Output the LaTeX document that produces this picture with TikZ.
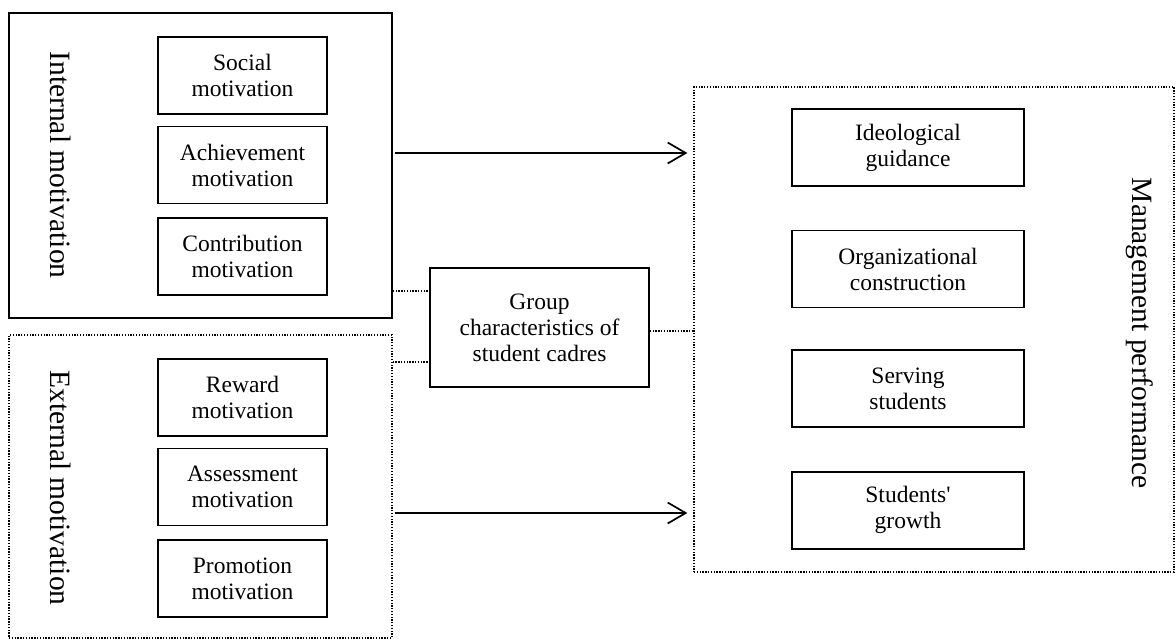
\documentclass[tikz,border=0pt]{standalone}
\usepackage{fontspec}
\setmainfont{Liberation Serif}
\usetikzlibrary{arrows.meta,positioning}
\tikzset{
  motbox/.style={draw, line width=1.6pt, minimum width=169pt, minimum height=77pt,
    inner sep=0pt, align=center, font=\fontsize{23.5}{26}\selectfont},
  perfbox/.style={motbox, minimum width=232pt},
  solidframe/.style={draw, line width=1.7pt, inner sep=0pt},
  dotframe/.style={draw, line width=1.3pt, dash pattern=on 1.3pt off 1.5pt, inner sep=0pt},
  sidelabel/.style={rotate=-90, font=\fontsize{29.5}{32}\selectfont},
  flow/.style={line width=1.7pt, -{Straight Barb[length=18pt,width=21pt,line width=1.7pt]}},
  dotlink/.style={line width=1.3pt, dash pattern=on 1.3pt off 1.5pt}
}

\begin{document}
\begin{tikzpicture}[x=1pt,y=-1pt]
  \useasboundingbox (0,0) rectangle (1175,639);

  % motivation frames
  \node[solidframe, minimum width=383pt, minimum height=305pt] (intbox) at (200.5,165.5) {};
  \node[dotframe, minimum width=383pt, minimum height=303pt] (extbox) at (200.5,486.5) {};
  \node[sidelabel] (intlabel) at (61,165) {Internal motivation};
  \node[sidelabel] (extlabel) at (61,488) {External motivation};

  \node[motbox] (social) at (242.5,75.5) {Social\\motivation};
  \node[motbox, below=11pt of social] (achieve) {Achievement\\motivation};
  \node[motbox, below=13pt of achieve] (contrib) {Contribution\\motivation};

  \node[motbox] (reward) at (242.5,397.5) {Reward\\motivation};
  \node[motbox, below=11pt of reward] (assess) {Assessment\\motivation};
  \node[motbox, below=13pt of assess] (promo) {Promotion\\motivation};

  % group characteristics
  \node[motbox, minimum width=219pt, minimum height=119pt] (group) at (539.5,327.5)
    {Group\\characteristics of\\student cadres};

  % performance frame
  \node[dotframe, minimum width=480pt, minimum height=485pt] (mgmt) at (934,329.5) {};
  \node[sidelabel] (mgmtlabel) at (1140,333) {Management performance};

  \node[perfbox] (ideo) at (908,147.5) {Ideological\\guidance};
  \node[perfbox, below=43pt of ideo] (organ) {Organizational\\construction};
  \node[perfbox, below=41pt of organ] (serve) {Serving\\students};
  \node[perfbox, below=43pt of serve] (growth) {Students\textquotesingle\\growth};

  % connectors
  \draw[flow, shorten <=2pt, shorten >=6pt] (intbox.east |- 0,153) -- (mgmt.west |- 0,153);
  \draw[flow, shorten <=2pt, shorten >=6pt] (extbox.east |- 0,513) -- (mgmt.west |- 0,513);
  \draw[dotlink] (intbox.east |- 0,291) -- (group.west |- 0,291);
  \draw[dotlink] (extbox.east |- 0,362) -- (group.west |- 0,362);
  \draw[dotlink] (group.east |- 0,331) -- (mgmt.west |- 0,331);
\end{tikzpicture}
\end{document}
